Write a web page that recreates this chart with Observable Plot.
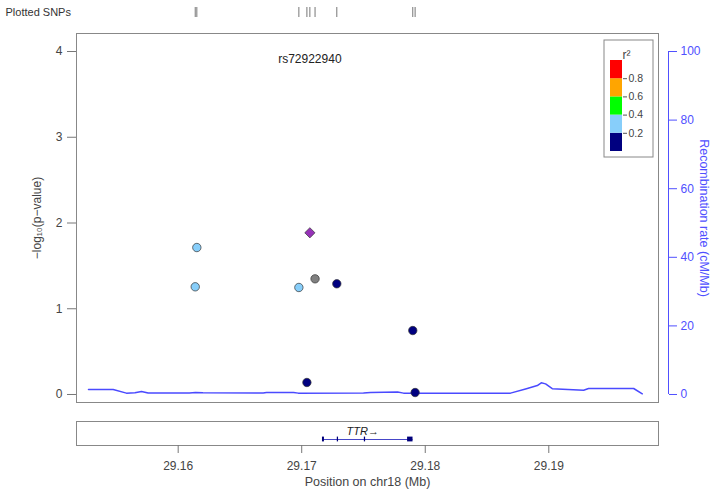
<!DOCTYPE html>
<html><head><meta charset="utf-8">
<script src="https://cdn.jsdelivr.net/npm/d3@7"></script>
<script src="https://cdn.jsdelivr.net/npm/@observablehq/plot@0.6"></script>
<style>
body{margin:0;background:#fff;font-family:"Liberation Sans",Arial,sans-serif;}
#wrap{position:relative;width:713px;height:498px;overflow:hidden;background:#fff;}
#wrap svg{position:absolute;overflow:visible;background:transparent;}
</style></head><body><div id="wrap"></div>
<script>
// ---- data ----
const snpPos   = [29.16138, 29.16151, 29.16977, 29.17042, 29.17066, 29.17108, 29.17284, 29.17899, 29.17918];
const snpLogP  = [1.256, 1.714, 1.248, 0.140, 1.886, 1.349, 1.291, 0.746, 0.023];
const snpR2    = [0.3, 0.3, 0.3, 0.1, 1, null, 0.1, 0.1, 0.1];
const indexSnp = "rs72922940";

const recPos  = [29.15274, 29.15474, 29.15581, 29.15650, 29.15703, 29.15757, 29.16091, 29.16140, 29.16200,
                 29.16688, 29.16715, 29.16934, 29.16972, 29.17500, 29.17557, 29.17776, 29.17824, 29.18690,
                 29.18812, 29.18907, 29.18939, 29.18974, 29.19028, 29.19282, 29.19322, 29.19687, 29.19757];
const recRate = [1.46, 1.46, 0.40, 0.50, 0.90, 0.45, 0.45, 0.60, 0.50,
                 0.45, 0.60, 0.60, 0.40, 0.45, 0.60, 0.70, 0.40, 0.40,
                 1.60, 2.60, 3.40, 3.10, 1.70, 1.25, 1.75, 1.75, 0.20];

const r2Breaks = [0.2, 0.4, 0.6, 0.8];
const r2Colors = ["#000080", "#87cefa", "#00ff00", "#ffa500", "#ff0000"];
const yTicks   = [0, 1, 2, 3, 4];
const recTicks = [0, 20, 40, 60, 80, 100];
const xTicks   = [29.16, 29.17, 29.18, 29.19];

const geneName  = "TTR";
const geneStart = 29.17168, geneEnd = 29.17901;
const exonStart = [29.17168, 29.17288, 29.17507, 29.17857];
const exonEnd   = [29.17184, 29.17298, 29.17517, 29.17901];

// ---- layout ----
const W = 713, mL = 76, mR = 55;
const xDomain = [29.15177, 29.19888];
const yDomain = [-0.0933, 4.21];
const recScale = 25; // right axis (cM/Mb) per left-axis unit
const FONT = "Liberation Sans, Arial, sans-serif";
const BLUE = "#5050ff";

const snps = snpPos.map((p, i) => ({pos: p, logp: snpLogP[i], r2: snpR2[i]}));
const rec  = recPos.map((p, i) => ({pos: p, rate: recRate[i]}));
const wrap = document.getElementById("wrap");
function place(el, left, top) { el.style.left = left + "px"; el.style.top = top + "px"; wrap.appendChild(el); }

// ---- plotted SNPs strip ----
const strip = Plot.plot({
  width: W, height: 25, marginLeft: mL, marginRight: mR, marginTop: 7, marginBottom: 8,
  x: {domain: xDomain, axis: null},
  style: {fontFamily: FONT, background: "transparent", overflow: "visible"},
  marks: [
    Plot.tickX(snps, {x: "pos", stroke: "#777", strokeWidth: 1}),
    Plot.text(["Plotted SNPs"], {frameAnchor: "left", dx: -71, textAnchor: "start", fontSize: 11, fill: "#333"})
  ]
});
place(strip, 0, 0);

// ---- main panel ----
const main = Plot.plot({
  width: W, height: 385, marginLeft: mL, marginRight: mR, marginTop: 8, marginBottom: 8,
  x: {domain: xDomain, axis: null},
  y: {domain: yDomain, label: null},
  color: {type: "threshold", domain: r2Breaks, range: r2Colors},
  style: {fontFamily: FONT, background: "transparent", overflow: "visible"},
  marks: [
    Plot.frame({stroke: "#888"}),
    Plot.axisY({ticks: yTicks, tickFormat: d3.format("d"), tickSize: 9, tickPadding: 5, label: null, color: "#444", stroke: "#777", fontSize: 12}),
    Plot.axisY({anchor: "right", ticks: recTicks.map(v => v / recScale), tickFormat: v => String(Math.round(v * recScale)),
                dx: 10, tickSize: 8, tickPadding: 4, label: null, color: BLUE, fontSize: 12}),
    Plot.ruleX([xDomain[1]], {y1: recTicks[0] / recScale, y2: recTicks[recTicks.length - 1] / recScale, dx: 10, stroke: BLUE}),
    Plot.line(rec, {x: "pos", y: d => d.rate / recScale, stroke: "#4a4aff", strokeWidth: 1.5}),
    Plot.dot(snps.filter(d => d.r2 != null && d.r2 < 1), {x: "pos", y: "logp", fill: "r2", r: 4.2, stroke: "#333", strokeWidth: 0.7}),
    Plot.dot(snps.filter(d => d.r2 == null), {x: "pos", y: "logp", fill: "#808080", r: 4.2, stroke: "#333", strokeWidth: 0.7}),
    Plot.dot(snps.filter(d => d.r2 === 1), {x: "pos", y: "logp", symbol: "diamond2", fill: "#9632b8", r: 4.6, stroke: "#333", strokeWidth: 0.7}),
    Plot.text(snps.filter(d => d.r2 === 1), {x: "pos", text: () => indexSnp, frameAnchor: "top", dy: 21, fontSize: 12, fill: "#222"}),
    Plot.text(["−log₁₀(p−value)"], {frameAnchor: "left", textAnchor: "middle", dx: -39, rotate: -90, fontSize: 12, fill: "#444"}),
    Plot.text(["Recombination rate (cM/Mb)"], {frameAnchor: "right", textAnchor: "middle", dx: 45, rotate: 90, fontSize: 12.5, fill: BLUE})
  ]
});
place(main, 0, 25);

// ---- r2 legend ----
const bins = [0, ...r2Breaks].map((lo, i) => ({lo, hi: [...r2Breaks, 1][i]}));
const legend = Plot.plot({
  width: 50, height: 118, marginLeft: 7, marginRight: 31, marginTop: 21, marginBottom: 6,
  x: {domain: [0, 1], axis: null},
  y: {domain: [0, 1], axis: null},
  color: {type: "threshold", domain: r2Breaks, range: r2Colors},
  style: {fontFamily: FONT, background: "transparent", overflow: "visible"},
  marks: [
    Plot.frame({stroke: "#888", fill: "white", insetLeft: -6.5, insetRight: -30.5, insetTop: -20.5, insetBottom: -5.5}),
    Plot.rect(bins, {x1: () => 0, x2: () => 1, y1: "lo", y2: "hi", fill: d => (d.lo + d.hi) / 2}),
    Plot.axisY({anchor: "right", ticks: r2Breaks, tickSize: 4, tickPadding: 2, label: null, color: "#444", stroke: "#555", fontSize: 10.5}),
    Plot.text(["r²"], {frameAnchor: "top", dx: 10, dy: -10, fontSize: 12, fill: "#444"})
  ]
});
place(legend, 603, 39);

// ---- gene panel ----
const geneRow = 0.25, exonHalf = 0.1;
const genes = [{name: geneName, start: geneStart, end: geneEnd}];
const exons = exonStart.map((s, i) => ({start: s, end: exonEnd[i]}));
const gene = Plot.plot({
  width: W, height: 88, marginLeft: mL, marginRight: mR, marginTop: 11, marginBottom: 53,
  x: {domain: xDomain},
  y: {domain: [0, 1], axis: null},
  style: {fontFamily: FONT, background: "transparent", overflow: "visible"},
  marks: [
    Plot.frame({stroke: "#888"}),
    Plot.axisX({ticks: xTicks, tickFormat: d3.format(".2f"), tickSize: 8, tickPadding: 8, label: null, color: "#444", stroke: "#777", fontSize: 12}),
    Plot.ruleY(genes, {x1: "start", x2: "end", y: () => geneRow, stroke: "#4646c8", strokeWidth: 1}),
    Plot.rect(exons, {x1: "start", x2: "end", y1: () => geneRow - exonHalf, y2: () => geneRow + exonHalf, fill: "#00007a"}),
    Plot.text(genes, {x: d => (d.start + d.end) / 2, y: () => 0.6, text: d => d.name + "→", dx: -5,
                      fontStyle: "italic", fontSize: 11, fill: "#222"}),
    Plot.text(["Position on chr18 (Mb)"], {frameAnchor: "bottom", dy: 40, fontSize: 12.5, fill: "#444"})
  ]
});
place(gene, 0, 410);
</script></body></html>
